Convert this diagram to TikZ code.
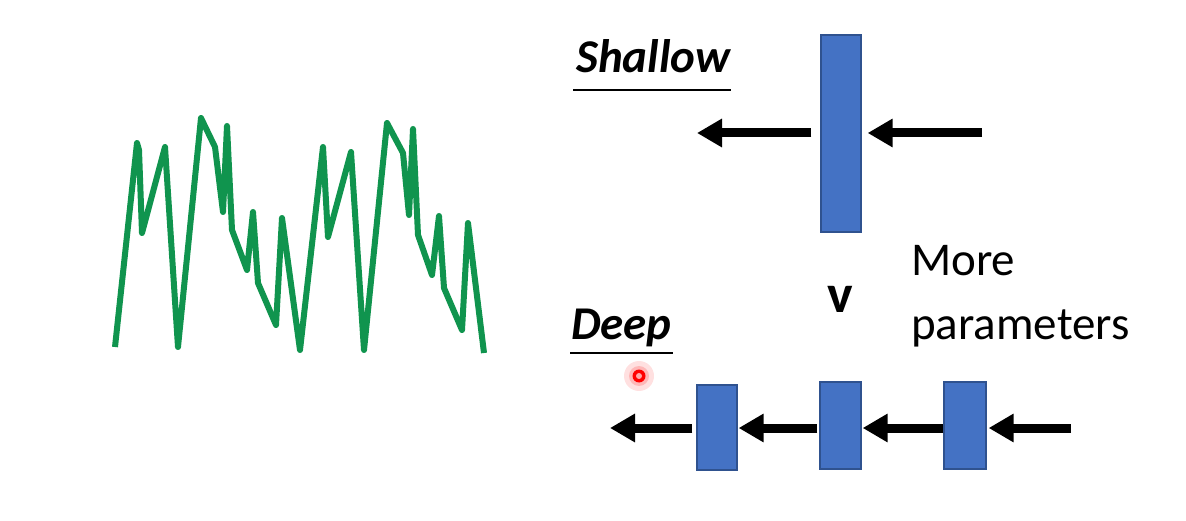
\documentclass[tikz,border=0pt]{standalone}
\usepackage{fontspec}
\setmainfont{Carlito}
\usetikzlibrary{arrows.meta}
\definecolor{boxfill}{HTML}{4472C4}
\definecolor{boxline}{HTML}{2F528F}
\definecolor{signal}{RGB}{16,148,78}
\tikzset{
  layer/.style={draw=boxline, fill=boxfill, line width=1.3pt, inner sep=0pt, minimum width=40pt},
  flow/.style={line width=9pt, -{Triangle[length=25pt,width=27pt]}},
  bigtext/.style={inner sep=0pt, anchor=base west, font=\fontsize{47pt}{56pt}\selectfont},
  title/.style={bigtext, font=\fontsize{47pt}{56pt}\selectfont\bfseries\itshape},
  uline/.style={line width=2pt},
  wave/.style={draw=signal, line width=6pt, line join=round}
}
\begin{document}
\begin{tikzpicture}[x=1pt,y=-1pt]
\useasboundingbox (0,0) rectangle (1186,521);
\fill[white] (0,0) rectangle (1186,521);

% noisy green signal
\draw[wave] (115,347) -- (137,143) -- (139,150) -- (142,233) -- (165,147) -- (178,347)
  -- (201,118) -- (215,147) -- (223,212) -- (227,126) -- (232,230) -- (247,270)
  -- (253,212) -- (258,283) -- (276,325) -- (282,218) -- (300,350) -- (323,147)
  -- (328,237) -- (351,152) -- (364,350) -- (387,123) -- (403,153) -- (409,215)
  -- (413,129) -- (418,235) -- (432,275) -- (439,216) -- (444,288) -- (462,330)
  -- (468,223) -- (484,353);

% Shallow
\node[title] (shallow) at (576,73) {Shallow};
\draw[uline] (573,90) -- (731,90);
\node[layer, minimum height=197pt] (S) at (841,133.5) {};
\coordinate (sout) at (697,133);
\coordinate (sin) at (982,133);
\draw[flow] ([xshift=-9pt]S.west|-sout) -- (sout);
\draw[flow] (sin) -- ([xshift=6pt]S.east|-sin);

% comparison
\node[inner sep=0pt, font=\fontsize{54pt}{60pt}\selectfont\bfseries] (cmp) at (840,299) {v};
\node[bigtext] (more) at (911,276) {More};
\node[bigtext] (params) at (911,339) {parameters};

% Deep
\node[title] (deep) at (571,340) {Deep};
\draw[uline] (570,353) -- (673,353);
\node[layer, minimum height=85pt] (D1) at (717,427.5) {};
\node[layer, minimum height=87pt, minimum width=41pt] (D2) at (840.5,425.5) {};
\node[layer, minimum height=87pt, minimum width=42pt] (D3) at (965,425.5) {};
\coordinate (dout) at (610,428);
\coordinate (din) at (1071,428);
\draw[flow] (din) -- ([xshift=2pt]D3.east|-din);
\draw[flow] (D3.west|-din) -- ([xshift=1pt]D2.east|-din);
\draw[flow] ([xshift=-2pt]D2.west|-din) -- ([xshift=1pt]D1.east|-din);
\draw[flow] ([xshift=-4pt]D1.west|-din) -- (dout);

% laser pointer dot
\fill[red, opacity=0.12] (639,376) circle (15pt);
\fill[red, opacity=0.18] (639,376) circle (10pt);
\fill[red] (639,376) circle (6.5pt);
\fill[red!35!white] (639,376) circle (3pt);
\end{tikzpicture}
\end{document}
